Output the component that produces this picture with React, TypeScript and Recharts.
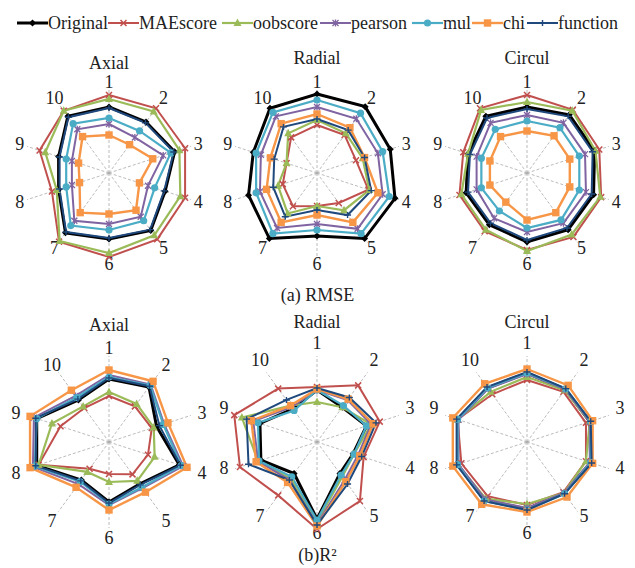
import { RadarChart, Radar, PolarGrid, PolarAngleAxis, PolarRadiusAxis } from 'recharts'

// Ten test cases around each radar, clockwise from the top
const AXES = ['1', '2', '3', '4', '5', '6', '7', '8', '9', '10']

const SERIES = ['Original', 'MAEscore', 'oobscore', 'pearson', 'mul', 'chi', 'function'] as const
type SeriesName = (typeof SERIES)[number]
type PanelValues = Record<SeriesName, number[]>

// radial scale (score units, 0 at the centre)
const SCALE_MAX = 86

// (a) RMSE
const rmseAxial: PanelValues = {
  Original: [66, 63, 69, 59, 71, 66, 74, 53, 53, 70],
  MAEscore: [78, 80, 80, 80, 82, 84, 85, 60, 73, 77],
  oobscore: [74, 76, 74, 75, 77, 80, 84, 55, 67, 77],
  pearson: [49, 44, 57, 41, 54, 51, 59, 39, 39, 54],
  mul: [55, 52, 65, 48, 59, 57, 65, 45, 45, 61],
  chi: [38, 35, 46, 32, 46, 41, 49, 31, 32, 45],
  function: [65, 62, 68, 58, 70, 65, 73, 52, 52, 69],
}

const rmseRadial: PanelValues = {
  Original: [79, 82, 77, 82, 81, 63, 81, 72, 67, 80],
  MAEscore: [48, 47, 41, 54, 37, 33, 41, 36, 32, 44],
  oobscore: [53, 49, 48, 55, 46, 33, 50, 41, 32, 49],
  pearson: [66, 67, 64, 69, 69, 51, 68, 60, 59, 70],
  mul: [73, 74, 69, 76, 75, 57, 75, 64, 64, 75],
  chi: [59, 56, 50, 64, 61, 42, 61, 53, 49, 61],
  function: [54, 53, 50, 57, 52, 37, 54, 46, 45, 57],
}

const rmseCircul: PanelValues = {
  Original: [66, 72, 71, 70, 70, 69, 64, 64, 62, 70],
  MAEscore: [78, 78, 76, 78, 79, 77, 72, 71, 67, 80],
  oobscore: [71, 77, 72, 77, 76, 78, 70, 69, 62, 78],
  pearson: [58, 62, 61, 62, 62, 59, 56, 53, 53, 62],
  mul: [52, 56, 55, 55, 58, 55, 47, 48, 48, 54],
  chi: [42, 46, 45, 45, 49, 47, 36, 39, 39, 45],
  function: [64, 70, 69, 68, 68, 67, 62, 62, 60, 68],
}

// (b) R²
const r2Axial: PanelValues = {
  Original: [63, 68, 50, 74, 52, 60, 47, 76, 76, 52],
  MAEscore: [46, 44, 45, 41, 40, 32, 33, 74, 51, 42],
  oobscore: [50, 47, 47, 48, 48, 40, 37, 74, 60, 44],
  pearson: [67, 71, 58, 78, 57, 63, 52, 80, 79, 57],
  mul: [65, 70, 57, 76, 56, 62, 49, 78, 76, 55],
  chi: [72, 75, 62, 82, 62, 68, 56, 83, 83, 64],
  function: [64, 69, 53, 75, 53, 61, 48, 77, 77, 53],
}

const r2Radial: PanelValues = {
  Original: [52, 43, 52, 38, 39, 77, 39, 59, 60, 41],
  MAEscore: [55, 70, 66, 49, 73, 87, 66, 81, 87, 66],
  oobscore: [40, 43, 57, 39, 43, 80, 45, 62, 79, 45],
  pearson: [52, 52, 57, 43, 47, 82, 47, 62, 67, 43],
  mul: [52, 45, 52, 39, 41, 78, 43, 61, 62, 39],
  chi: [53, 53, 59, 45, 49, 84, 50, 64, 69, 45],
  function: [54, 55, 62, 47, 52, 83, 47, 72, 74, 52],
}

const r2Circul: PanelValues = {
  Original: [69, 65, 66, 67, 63, 67, 72, 73, 73, 67],
  MAEscore: [62, 62, 62, 62, 62, 63, 67, 69, 73, 59],
  oobscore: [65, 64, 66, 62, 63, 62, 70, 73, 73, 62],
  pearson: [68, 65, 66, 66, 63, 66, 71, 72, 72, 66],
  mul: [69, 66, 67, 67, 64, 68, 73, 73, 73, 67],
  chi: [73, 70, 69, 69, 68, 70, 77, 78, 78, 72],
  function: [70, 66, 67, 68, 64, 68, 73, 74, 74, 68],
}

type Shape = 'diamond' | 'cross' | 'triangle' | 'star' | 'circle' | 'square' | 'plus'

const SERIES_STYLE: Record<SeriesName, { color: string; width: number; shape: Shape }> = {
  Original: { color: '#000000', width: 3, shape: 'diamond' },
  MAEscore: { color: '#c0504d', width: 2, shape: 'cross' },
  oobscore: { color: '#9bbb59', width: 2.2, shape: 'triangle' },
  pearson: { color: '#8064a2', width: 2, shape: 'star' },
  mul: { color: '#4bacc6', width: 2.2, shape: 'circle' },
  chi: { color: '#f79646', width: 2.4, shape: 'square' },
  function: { color: '#1f497d', width: 2, shape: 'plus' },
}

const FONT = "'Liberation Serif', 'DejaVu Serif', serif"

const PANEL_W = 210
const PANEL_H = 250
const CX = 105
const CY = 125
const OUTER_R = 86

function Marker({ x, y, shape, color }: { x: number; y: number; shape: Shape; color: string }) {
  switch (shape) {
    case 'diamond':
      return <path d={`M${x},${y - 3.5}L${x + 3.5},${y}L${x},${y + 3.5}L${x - 3.5},${y}Z`} fill={color} />
    case 'cross':
      return <path d={`M${x - 3},${y - 3}L${x + 3},${y + 3}M${x - 3},${y + 3}L${x + 3},${y - 3}`} stroke={color} strokeWidth={1.5} />
    case 'triangle':
      return <path d={`M${x},${y - 4.5}L${x + 4},${y + 3}L${x - 4},${y + 3}Z`} fill={color} />
    case 'star':
      return (
        <path
          d={`M${x - 3},${y - 3}L${x + 3},${y + 3}M${x - 3},${y + 3}L${x + 3},${y - 3}M${x},${y - 3.5}L${x},${y + 3.5}`}
          stroke={color}
          strokeWidth={1.3}
        />
      )
    case 'circle':
      return <circle cx={x} cy={y} r={3.6} fill={color} />
    case 'square':
      return <rect x={x - 3.7} y={y - 3.7} width={7.4} height={7.4} fill={color} />
    case 'plus':
      return <path d={`M${x - 3.5},${y}L${x + 3.5},${y}M${x},${y - 3}L${x},${y + 3}`} stroke={color} strokeWidth={1.4} />
  }
}

function AxisLabel(props: any) {
  const { payload, index, labelRadius, labelDy } = props
  const deg = payload?.coordinate ?? 90 - 36 * index
  const a = (deg * Math.PI) / 180
  const r = labelRadius + 3 * Math.abs(Math.cos(a))
  return (
    <text
      x={CX + Math.cos(a) * r}
      y={CY - Math.sin(a) * r + labelDy}
      textAnchor="middle"
      dominantBaseline="central"
      fontFamily={FONT}
      fontSize={18}
      fill="#222"
    >
      {payload.value}
    </text>
  )
}

function RadarPanel({
  title,
  values,
  centerX,
  centerY,
  titleY,
  labelRadius,
  labelDy,
}: {
  title: string
  values: PanelValues
  centerX: number
  centerY: number
  titleY: number
  labelRadius: number
  labelDy: number
}) {
  const data = AXES.map((axis, i) => {
    const row: Record<string, string | number> = { axis }
    SERIES.forEach((s) => {
      row[s] = values[s][i]
    })
    return row
  })
  return (
    <>
      <div
        style={{
          position: 'absolute',
          left: centerX - 60,
          width: 120,
          top: titleY - 10,
          lineHeight: '20px',
          fontSize: 18,
          textAlign: 'center',
          color: '#222',
        }}
      >
        {title}
      </div>
      <div style={{ position: 'absolute', left: centerX - CX, top: centerY - CY, width: PANEL_W, height: PANEL_H }}>
        <RadarChart
          width={PANEL_W}
          height={PANEL_H}
          data={data}
          cx={CX}
          cy={CY}
          outerRadius={OUTER_R}
          startAngle={90}
          endAngle={-270}
          margin={{ top: 0, right: 0, bottom: 0, left: 0 }}
        >
          <PolarGrid gridType="polygon" polarRadius={[]} stroke="#a9a9a9" strokeWidth={0.8} strokeDasharray="3 2" />
          <PolarRadiusAxis domain={[0, SCALE_MAX]} allowDataOverflow tick={false} axisLine={false} />
          <PolarAngleAxis
            dataKey="axis"
            axisLine={false}
            tickLine={false}
            tick={(p: any) => <AxisLabel {...p} labelRadius={labelRadius} labelDy={labelDy} />}
          />
          {SERIES.map((s) => {
            const st = SERIES_STYLE[s]
            return (
              <Radar
                key={s}
                name={s}
                dataKey={s}
                stroke={st.color}
                strokeWidth={st.width}
                fill="none"
                fillOpacity={0}
                isAnimationActive={false}
                dot={(p: any) => <Marker key={p.key ?? `${s}-${p.index}`} x={p.cx} y={p.cy} shape={st.shape} color={st.color} />}
              />
            )
          })}
        </RadarChart>
      </div>
    </>
  )
}

// legend item left edges (line sample starts, label follows)
const LEGEND_X = [17, 108, 222, 320, 412, 472, 527]
const LEGEND_LINE_W = 31

function LegendRow() {
  return (
    <>
      {SERIES.map((s, i) => {
        const st = SERIES_STYLE[s]
        return (
          <div key={s} style={{ position: 'absolute', left: LEGEND_X[i], top: 13, height: 20, display: 'flex', alignItems: 'center' }}>
            <svg width={LEGEND_LINE_W} height={14} style={{ display: 'block' }}>
              <line x1={0} y1={7} x2={LEGEND_LINE_W} y2={7} stroke={st.color} strokeWidth={st.width} />
              <Marker x={LEGEND_LINE_W / 2} y={7} shape={st.shape} color={st.color} />
            </svg>
            <span style={{ fontSize: 18, lineHeight: '20px', color: '#222' }}>{s}</span>
          </div>
        )
      })}
    </>
  )
}

const COL_X = [109, 317, 527]
const ROW_Y = [173, 442]

export default function App() {
  return (
    <div
      style={{
        position: 'absolute',
        left: 0,
        top: 0,
        width: 635,
        height: 568,
        background: '#fff',
        fontFamily: FONT,
        overflow: 'hidden',
      }}
    >
      <LegendRow />
      <RadarPanel title="Axial" values={rmseAxial} centerX={COL_X[0]} centerY={ROW_Y[0]} titleY={63} labelRadius={91} labelDy={0} />
      <RadarPanel title="Radial" values={rmseRadial} centerX={COL_X[1]} centerY={ROW_Y[0]} titleY={58} labelRadius={91} labelDy={0} />
      <RadarPanel title="Circul" values={rmseCircul} centerX={COL_X[2]} centerY={ROW_Y[0]} titleY={58} labelRadius={91} labelDy={0} />
      <div style={{ position: 'absolute', left: 0, width: 635, top: 285, lineHeight: '20px', fontSize: 18, textAlign: 'center', color: '#222' }}>
        (a) RMSE
      </div>
      <RadarPanel title="Axial" values={r2Axial} centerX={COL_X[0]} centerY={ROW_Y[1]} titleY={325} labelRadius={95} labelDy={1} />
      <RadarPanel title="Radial" values={r2Radial} centerX={COL_X[1]} centerY={ROW_Y[1]} titleY={322} labelRadius={95} labelDy={-4} />
      <RadarPanel title="Circul" values={r2Circul} centerX={COL_X[2]} centerY={ROW_Y[1]} titleY={322} labelRadius={95} labelDy={-4} />
      <div style={{ position: 'absolute', left: 0, width: 635, top: 545, lineHeight: '20px', fontSize: 18, textAlign: 'center', color: '#222' }}>
        (b)R²
      </div>
    </div>
  )
}
